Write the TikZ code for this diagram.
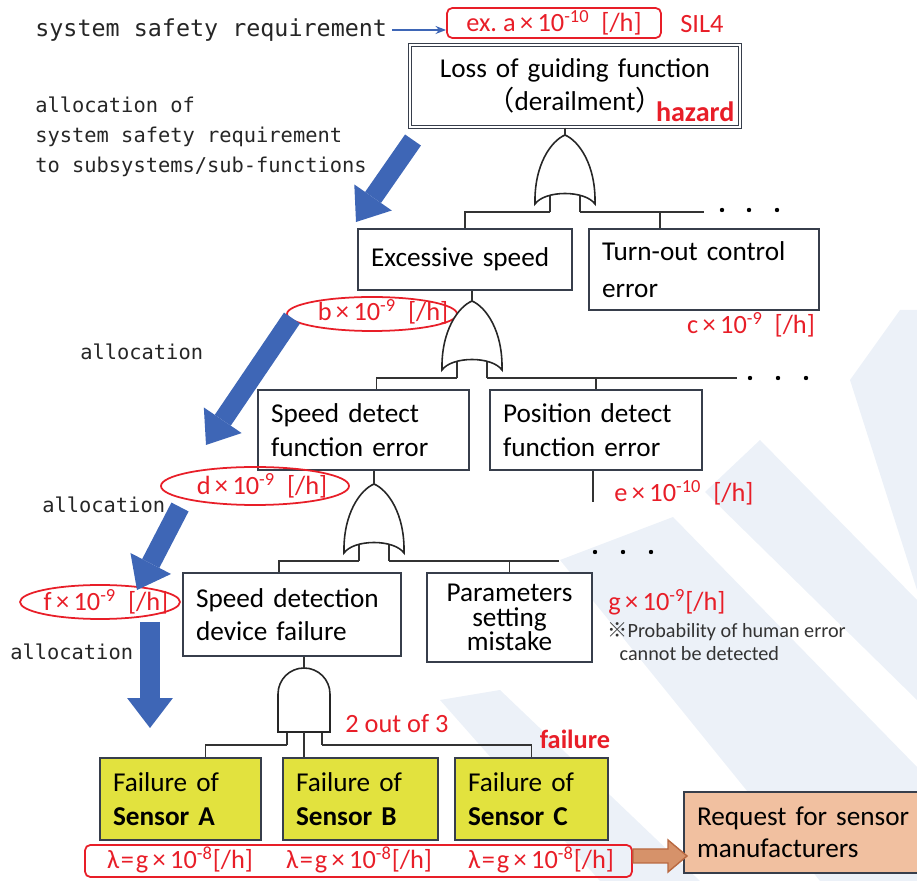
\documentclass[tikz,border=0pt]{standalone}
\usepackage{fontspec}
\setmainfont{Carlito}
\newfontfamily\monofont{DejaVu Sans Mono}
\newfontfamily\cjk{Noto Sans CJK JP}
\usetikzlibrary{arrows.meta}

\definecolor{boxline}{RGB}{55,62,75}
\definecolor{redmark}{RGB}{232,30,40}
\definecolor{arrowblue}{RGB}{62,102,182}
\definecolor{sensorfill}{RGB}{226,226,62}
\definecolor{requestfill}{RGB}{241,192,160}
\definecolor{pointerfill}{RGB}{214,146,106}
\definecolor{pointerline}{RGB}{185,105,65}
\definecolor{watermark}{RGB}{236,241,248}

\newcommand\timesmark{\kern2.5pt×\kern2.5pt}

\begin{document}
\begin{tikzpicture}[x=0.02cm, y=-0.02cm,
	event/.style = {draw=boxline, line width=0.9pt, fill=white,
		inner xsep=0.26cm, inner ysep=0pt, align=left,
		font=\fontsize{15.5}{19}\selectfont},
	sensor/.style = {event, fill=sensorfill},
	branch/.style = {draw=black!80, line width=0.6pt},
	gate/.style = {draw=black!85, line width=0.9pt, fill=white},
	mono/.style = {font=\monofont\fontsize{11.6}{17}\selectfont,
		text=black!85, inner sep=0pt, anchor=west, align=left},
	rate/.style = {text=redmark, font=\fontsize{15}{18}\selectfont, inner sep=0pt},
	ring/.style = {draw=redmark, line width=1pt},
	alloc/.style = {-{Triangle[length=17pt, width=26pt, line width=0pt]},
		draw=arrowblue, line width=11pt},
	orgate/.pic = {
		\draw[branch] (-15,58) -- (-15,77) (15,58) -- (15,77);
		\path[gate] (-30,69) .. controls (-31,30) and (-14,6) .. (0,0)
			.. controls (14,6) and (31,30) .. (30,69)
			.. controls (20,55) and (-20,55) .. cycle;
		\coordinate (-top) at (0,0);
		\coordinate (-l) at (-15,77);
		\coordinate (-r) at (15,77);
	},
	andgate/.pic = {
		\draw[branch] (-17,64) -- (-17,77) (18,64) -- (18,77);
		\path[gate] (-26,64) -- (-26,26) arc[start angle=180, end angle=360, radius=26]
			-- (26,64) -- cycle;
		\coordinate (-top) at (0,0);
		\coordinate (-l) at (-17,77);
		\coordinate (-m) at (0,64);
		\coordinate (-r) at (18,77);
	}]

	\useasboundingbox (0,0) rectangle (917,881);
	\clip (0,0) rectangle (917,881);

	% Watermark
	\fill[watermark] (760,440) -- (917,600) -- (917,700) -- (705,492) -- cycle;
	\fill[watermark] (560,560) -- (673,517) -- (917,767) -- (917,881) -- (820,881) -- cycle;
	\fill[watermark] (850,380) -- (900,310) -- (917,310) -- (917,590) -- cycle;
	\fill[watermark] (440,700) -- (500,690) -- (700,881) -- (600,881) -- cycle;

	% System safety requirement
	\node[mono, font=\monofont\fontsize{13.3}{17}\selectfont] (ssr) at (35,30)
		{system safety requirement};
	\node[rate, draw=redmark, line width=1pt, rounded corners=3pt,
		minimum width=4.28cm, minimum height=0.6cm] (sysreq) at (554,23)
		{ex.\ a\timesmark10\textsuperscript{-10}\ \ [/h]};
	\node[rate, anchor=west] (sil) at (680,24) {SIL4};
	\draw[-{Stealth[length=6pt]}, arrowblue, line width=1.2pt]
		([xshift=0.1cm]ssr.east) -- (ssr.east -| sysreq.west);

	% Top event
	\node[event, double, line width=0.6pt, double distance=1.4pt, align=center,
		text width=6.08cm, minimum height=1.64cm] (top) at (575,86)
		{Loss of guiding function\\{\cjk （}derailment{\cjk ）}};
	\node[anchor=south east, text=redmark, inner sep=1pt,
		font=\bfseries\fontsize{16}{19}\selectfont] (hazard)
		at ([xshift=-0.08cm, yshift=0.08cm]top.south east) {hazard};

	% Allocation texts
	\node[mono] (allocall) at (35,137)
		{allocation of\\system safety requirement\\to subsystems/sub-functions};
	\node[mono] (allocb) at (80,352) {allocation};
	\node[mono] (allocd) at (42,505) {allocation};
	\node[mono] (allocf) at (10,652) {allocation};

	% Level 1
	\pic (g1) at (565,135) {orgate};
	\node[event, text width=3.76cm, minimum height=1.22cm] (excess) at (465,259.5)
		{Excessive speed};
	\node[event, text width=4.08cm, minimum height=1.62cm,
		font=\fontsize{15.5}{21}\selectfont] (turnout) at (704,269.5)
		{Turn-out control\\error};
	\draw[branch] (top.south -| g1-top) -- (g1-top);
	\draw[branch] (g1-l) -| (excess.north);
	\draw[branch] ([xshift=-0.88cm]turnout.north) |- (g1-r);
	\draw[branch] (g1-r) -- (g1-r -| turnout.north);
	\foreach \x in {722,749,777}
		\fill (\x,210) circle[radius=2.2];

	\node[rate] (rateb) at (383,312) {b\timesmark10\textsuperscript{-9}\ \ [/h]};
	\draw[ring] ([xshift=-0.22cm, yshift=-0.04cm]rateb.center) ellipse[x radius=85, y radius=17];
	\node[rate] (ratec) at (751,325) {c\timesmark10\textsuperscript{-9}\ \ [/h]};

	% Level 2
	\pic (g2) at (472,301) {orgate};
	\node[event, text width=3.70cm, minimum height=1.6cm] (spdet) at (363.5,430)
		{Speed detect\\function error};
	\node[event, text width=3.72cm, minimum height=1.6cm] (posdet) at (596,430)
		{Position detect\\function error};
	\draw[branch] (excess.south -| g2-top) -- (g2-top);
	\draw[branch] (g2-l) -| ([xshift=0.26cm]spdet.north);
	\draw[branch] (g2-r) -| (posdet.north);
	\coordinate (bar2end) at (737,378);
	\draw[branch] (g2-r) -- (bar2end);
	\foreach \x in {750,778,806}
		\fill (\x,378) circle[radius=2.2];
	\coordinate (posdetend) at (593,502);
	\draw[branch] (posdet.south -| posdetend) -- (posdetend);

	\node[rate] (rated) at (262,486) {d\timesmark10\textsuperscript{-9}\ \ [/h]};
	\draw[ring] ([xshift=-0.14cm]rated.center) ellipse[x radius=94, y radius=19];
	\node[rate] (ratee) at (684,493) {e\timesmark10\textsuperscript{-10}\ \ [/h]};

	% Level 3
	\pic (g3) at (374,484) {orgate};
	\node[event, text width=3.84cm, minimum height=1.66cm] (spdev) at (292,614.5)
		{Speed detection\\device failure};
	\node[event, text width=2.78cm, minimum height=1.78cm, align=center,
		font=\fontsize{15.5}{13.8}\selectfont] (param) at (509.5,617.5)
		{Parameters\\setting\\mistake};
	\draw[branch] (spdet.south -| g3-top) -- (g3-top);
	\draw[branch] (g3-l) -| ([xshift=-0.26cm]spdev.north);
	\draw[branch] (g3-r) -| (param.north);
	\coordinate (bar3end) at (559,561);
	\draw[branch] (g3-r) -- (bar3end);
	\foreach \x in {595,623,651}
		\fill (\x,552) circle[radius=2.2];

	\node[rate] (ratef) at (106,602) {f\timesmark10\textsuperscript{-9}\ \ [/h]};
	\node[rate, anchor=west] (rateg) at (608,602) {g\timesmark10\textsuperscript{-9}[/h]};
	\node[anchor=west, text=black!80, inner sep=0pt, align=left,
		font=\fontsize{11.5}{13}\selectfont] (note) at (607,641.5)
		{{\cjk ※}Probability of human error\\\hspace*{7pt}cannot be detected};
	\draw[ring] ([xshift=-0.12cm]ratef.center) ellipse[x radius=80, y radius=17];

	% Level 4: sensors
	\pic (g4) at (304,668) {andgate};
	\node[sensor, text width=2.70cm, minimum height=1.64cm] (sensA) at (180.5,799)
		{Failure of\\\textbf{Sensor A}};
	\node[sensor, text width=2.58cm, minimum height=1.64cm] (sensB) at (360.5,799)
		{Failure of\\\textbf{Sensor B}};
	\node[sensor, text width=2.54cm, minimum height=1.64cm] (sensC) at (531.5,799)
		{Failure of\\\textbf{Sensor C}};
	\draw[branch] (spdev.south -| g4-top) -- (g4-top);
	\draw[branch] (g4-l) -| ([xshift=0.5cm]sensA.north);
	\draw[branch] (g4-m) -- (g4-m |- sensB.north);
	\draw[branch] (g4-r) -| (sensC.north);
	\node[rate, anchor=west] (kofn) at (345,724) {2 out of 3};
	\node[rate, font=\bfseries\fontsize{15}{18}\selectfont] (failure) at (575,739) {failure};

	% Sensor rates
	\node[draw=redmark, line width=1pt, rounded corners=3pt,
		minimum width=10.94cm, minimum height=0.64cm] (lambdas) at (358.5,861) {};
	\node[rate] (lamA) at (180,860) {λ\kern1pt=\kern1pt g\timesmark10\textsuperscript{-8}[/h]};
	\node[rate] (lamB) at (359,860) {λ\kern1pt=\kern1pt g\timesmark10\textsuperscript{-8}[/h]};
	\node[rate] (lamC) at (541,860) {λ\kern1pt=\kern1pt g\timesmark10\textsuperscript{-8}[/h]};

	% Request
	\node[event, fill=requestfill, text width=4.68cm, minimum height=1.62cm,
		font=\fontsize{15.5}{18}\selectfont] (request) at (814,832.5)
		{Request for sensor\\manufacturers};
	\draw[fill=pointerfill, draw=pointerline, line width=0.8pt]
		(633,849) -- (668,849) -- (668,840) -- (687,856) -- (668,872)
		-- (668,863) -- (633,863) -- cycle;

	% Allocation arrows
	\coordinate (a1s) at (413,140);
	\coordinate (a1e) at (356,222);
	\coordinate (a2s) at (292,318);
	\coordinate (a2e) at (206,445);
	\coordinate (a3s) at (180,507);
	\coordinate (a3e) at (137,590);
	\coordinate (a4s) at (150,622);
	\coordinate (a4e) at (150,728);
	\foreach \i in {1,...,4}
		\draw[alloc] (a\i s) -- (a\i e);

\end{tikzpicture}
\end{document}
